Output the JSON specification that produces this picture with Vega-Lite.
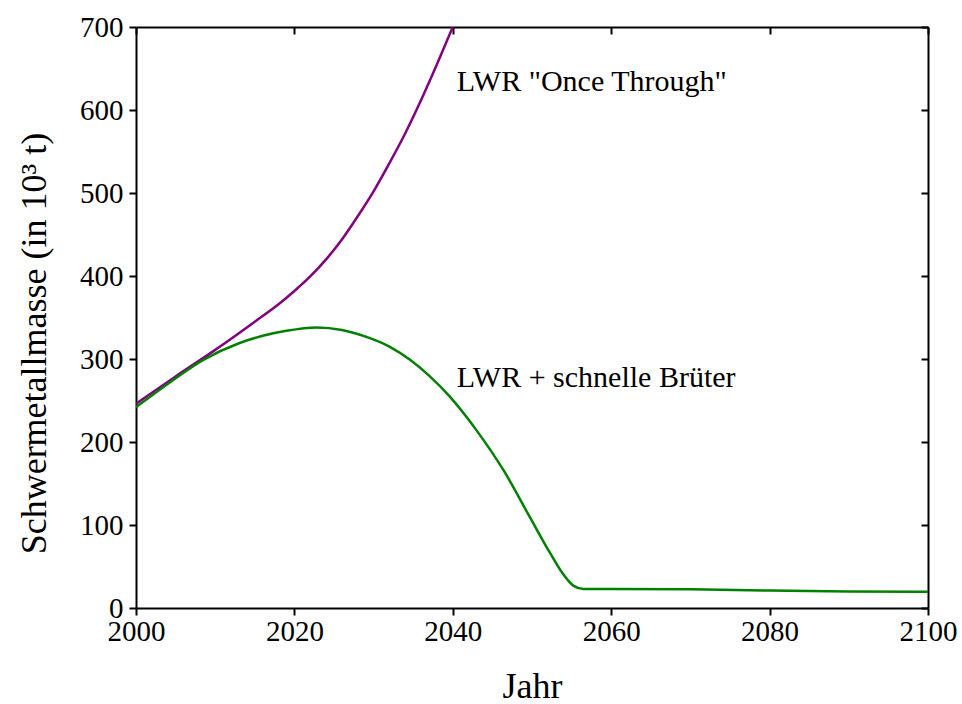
{
  "$schema": "https://vega.github.io/schema/vega-lite/v6.json",
  "width": 792,
  "height": 581,
  "autosize": {"type": "none"},
  "padding": {"left": 136, "top": 27, "right": 34, "bottom": 96},
  "config": {
    "font": "Liberation Serif, Times New Roman, serif",
    "view": {"stroke": null},
    "text": {"font": "Liberation Serif, Times New Roman, serif"},
    "axis": {
      "grid": false,
      "domainColor": "black",
      "domainWidth": 2,
      "tickColor": "black",
      "tickWidth": 2,
      "labelColor": "black",
      "titleColor": "black",
      "labelFont": "Liberation Serif, Times New Roman, serif",
      "titleFont": "Liberation Serif, Times New Roman, serif",
      "labelFontSize": 29,
      "titleFontSize": 36,
      "titleFontWeight": "normal"
    }
  },
  "datasets": {
    "curves": [
      {"Jahr": 2000, "Masse": 246, "Szenario": "LWR \"Once Through\""},
      {"Jahr": 2005, "Masse": 279, "Szenario": "LWR \"Once Through\""},
      {"Jahr": 2010, "Masse": 311, "Szenario": "LWR \"Once Through\""},
      {"Jahr": 2015, "Masse": 345, "Szenario": "LWR \"Once Through\""},
      {"Jahr": 2018, "Masse": 366, "Szenario": "LWR \"Once Through\""},
      {"Jahr": 2020, "Masse": 382, "Szenario": "LWR \"Once Through\""},
      {"Jahr": 2022, "Masse": 399.5, "Szenario": "LWR \"Once Through\""},
      {"Jahr": 2024, "Masse": 420, "Szenario": "LWR \"Once Through\""},
      {"Jahr": 2026, "Masse": 444, "Szenario": "LWR \"Once Through\""},
      {"Jahr": 2028, "Masse": 472, "Szenario": "LWR \"Once Through\""},
      {"Jahr": 2030, "Masse": 502, "Szenario": "LWR \"Once Through\""},
      {"Jahr": 2032, "Masse": 536, "Szenario": "LWR \"Once Through\""},
      {"Jahr": 2034, "Masse": 572, "Szenario": "LWR \"Once Through\""},
      {"Jahr": 2036, "Masse": 612, "Szenario": "LWR \"Once Through\""},
      {"Jahr": 2038, "Masse": 655, "Szenario": "LWR \"Once Through\""},
      {"Jahr": 2040, "Masse": 700, "Szenario": "LWR \"Once Through\""},
      {"Jahr": 2000, "Masse": 242, "Szenario": "LWR + schnelle Brüter"},
      {"Jahr": 2004, "Masse": 270, "Szenario": "LWR + schnelle Brüter"},
      {"Jahr": 2008.5, "Masse": 299, "Szenario": "LWR + schnelle Brüter"},
      {"Jahr": 2013, "Masse": 319, "Szenario": "LWR + schnelle Brüter"},
      {"Jahr": 2016, "Masse": 328, "Szenario": "LWR + schnelle Brüter"},
      {"Jahr": 2019, "Masse": 334, "Szenario": "LWR + schnelle Brüter"},
      {"Jahr": 2022.8, "Masse": 338, "Szenario": "LWR + schnelle Brüter"},
      {"Jahr": 2026, "Masse": 335, "Szenario": "LWR + schnelle Brüter"},
      {"Jahr": 2029, "Masse": 327, "Szenario": "LWR + schnelle Brüter"},
      {"Jahr": 2032, "Masse": 315, "Szenario": "LWR + schnelle Brüter"},
      {"Jahr": 2034.6, "Masse": 299, "Szenario": "LWR + schnelle Brüter"},
      {"Jahr": 2037, "Masse": 280, "Szenario": "LWR + schnelle Brüter"},
      {"Jahr": 2039.6, "Masse": 255, "Szenario": "LWR + schnelle Brüter"},
      {"Jahr": 2043, "Masse": 214, "Szenario": "LWR + schnelle Brüter"},
      {"Jahr": 2046.4, "Masse": 166, "Szenario": "LWR + schnelle Brüter"},
      {"Jahr": 2049.7, "Masse": 110, "Szenario": "LWR + schnelle Brüter"},
      {"Jahr": 2052.3, "Masse": 66, "Szenario": "LWR + schnelle Brüter"},
      {"Jahr": 2054, "Masse": 40, "Szenario": "LWR + schnelle Brüter"},
      {"Jahr": 2055.2, "Masse": 27, "Szenario": "LWR + schnelle Brüter"},
      {"Jahr": 2056.5, "Masse": 23, "Szenario": "LWR + schnelle Brüter"},
      {"Jahr": 2060, "Masse": 23, "Szenario": "LWR + schnelle Brüter"},
      {"Jahr": 2070, "Masse": 22.5, "Szenario": "LWR + schnelle Brüter"},
      {"Jahr": 2080, "Masse": 21, "Szenario": "LWR + schnelle Brüter"},
      {"Jahr": 2090, "Masse": 20, "Szenario": "LWR + schnelle Brüter"},
      {"Jahr": 2100, "Masse": 19.5, "Szenario": "LWR + schnelle Brüter"}
    ],
    "labels": [
      {"Jahr": 2040.5, "Masse": 623, "text": "LWR \"Once Through\""},
      {"Jahr": 2040.5, "Masse": 266, "text": "LWR + schnelle Brüter"}
    ]
  },
  "layer": [
    {
      "data": {"name": "curves"},
      "mark": {"type": "line", "strokeWidth": 2.5, "clip": true, "interpolate": "monotone"},
      "encoding": {
        "x": {
          "field": "Jahr", "type": "quantitative",
          "scale": {"domain": [2000, 2100], "nice": false, "zero": false},
          "axis": {
            "orient": "bottom", "title": "Jahr",
            "values": [2000, 2020, 2040, 2060, 2080, 2100],
            "format": "d", "tickSize": 7, "labelPadding": 2, "labelFlush": false,
            "labelFont": "Liberation Serif, Times New Roman, serif",
            "titleY": 89, "titleBaseline": "alphabetic"
          }
        },
        "y": {
          "field": "Masse", "type": "quantitative",
          "scale": {"domain": [0, 700], "nice": false, "zero": true},
          "axis": {
            "orient": "left", "title": "Schwermetallmasse (in 10³ t)",
            "values": [0, 100, 200, 300, 400, 500, 600, 700],
            "format": "d", "tickSize": 7, "labelPadding": 6, "labelFlush": false,
            "labelFont": "Liberation Serif, Times New Roman, serif",
            "titleX": -91, "titleY": 316, "titleAngle": -90,
            "titleBaseline": "alphabetic", "titleAlign": "center"
          }
        },
        "color": {
          "field": "Szenario", "type": "nominal",
          "scale": {"domain": ["LWR \"Once Through\"", "LWR + schnelle Brüter"], "range": ["#800080", "#008000"]},
          "legend": null
        }
      }
    },
    {
      "data": {"name": "labels"},
      "mark": {"type": "text", "align": "left", "baseline": "alphabetic", "fontSize": 30, "font": "Liberation Serif, Times New Roman, serif", "color": "black"},
      "encoding": {
        "x": {
          "field": "Jahr", "type": "quantitative",
          "scale": {"domain": [2000, 2100], "nice": false, "zero": false},
          "axis": {
            "orient": "top", "title": null, "labels": false,
            "values": [2000, 2020, 2040, 2060, 2080, 2100], "tickSize": -7
          }
        },
        "y": {
          "field": "Masse", "type": "quantitative",
          "scale": {"domain": [0, 700], "nice": false, "zero": true},
          "axis": {
            "orient": "right", "title": null, "labels": false,
            "values": [0, 100, 200, 300, 400, 500, 600, 700], "tickSize": -7
          }
        },
        "text": {"field": "text"}
      }
    }
  ],
  "resolve": {"axis": {"x": "independent", "y": "independent"}}
}
